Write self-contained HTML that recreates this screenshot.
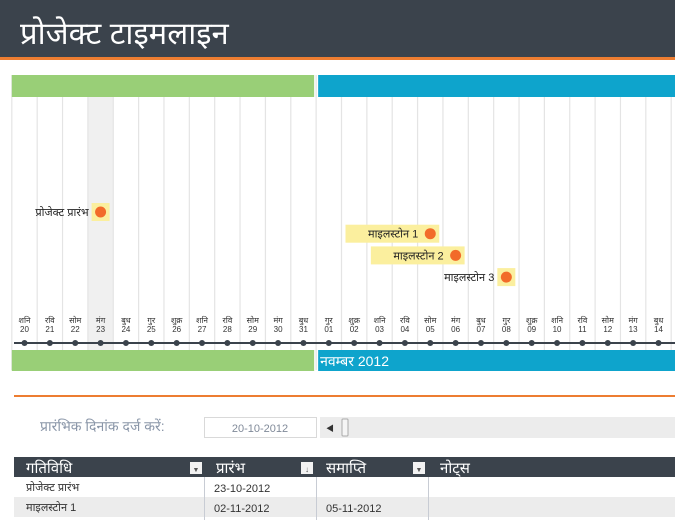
<!DOCTYPE html>
<html><head><meta charset="utf-8">
<style>
body{margin:0;width:675px;height:520px;overflow:hidden;background:#fff;font-family:"Liberation Sans","Noto Sans CJK SC",sans-serif;}
svg{display:block}
text{font-family:"Liberation Sans","Noto Sans CJK SC",sans-serif;}
</style></head><body>
<svg id="c" width="675" height="520">
<rect x="0" y="0" width="675" height="57" fill="#3b434c"/>
<rect x="0" y="57" width="675" height="3" fill="#ed7d31"/>
<text x="20" y="44" font-size="31" fill="#fff">प्रोजेक्ट टाइमलाइन</text>
<g id="grid"></g>
<g id="marks"></g>
<rect x="14" y="395" width="661" height="2" fill="#ed7d31"/>
<text x="40" y="431" font-size="14" fill="#8a96a8">प्रारंभिक दिनांक दर्ज करें:</text>
<rect x="204.5" y="417.5" width="112" height="20" fill="#fff" stroke="#d9d9d9"/>
<text x="260" y="432" font-size="11" fill="#808a99" text-anchor="middle">20-10-2012</text>
<rect x="320" y="417" width="355" height="21" fill="#ececec"/>
<text x="326" y="431" font-size="8" fill="#333">◀</text>
<rect x="342" y="419" width="6" height="17" fill="#f5f5f5" stroke="#aaa" rx="1"/>
<rect x="14" y="457" width="661" height="20" fill="#3b434c"/>
<text x="26" y="473" font-size="15" fill="#fff">गतिविधि</text>
<rect x="190" y="462" width="12" height="12" fill="#f2f2f2"/>
<text x="196" y="472" font-size="7" fill="#555" text-anchor="middle">▼</text>
<text x="216" y="473" font-size="15" fill="#fff">प्रारंभ</text>
<rect x="301" y="462" width="12" height="12" fill="#f2f2f2"/>
<text x="307" y="472" font-size="8" fill="#555" text-anchor="middle">↓</text>
<text x="326" y="473" font-size="15" fill="#fff">समाप्ति</text>
<rect x="413" y="462" width="12" height="12" fill="#f2f2f2"/>
<text x="419" y="472" font-size="7" fill="#555" text-anchor="middle">▼</text>
<text x="440" y="473" font-size="15" fill="#fff">नोट्स</text>
<rect x="14" y="497" width="661" height="20" fill="#ececec"/>
<line x1="204.5" y1="477" x2="204.5" y2="520" stroke="#c8ccd4"/>
<line x1="316.5" y1="477" x2="316.5" y2="520" stroke="#c8ccd4"/>
<line x1="428.5" y1="477" x2="428.5" y2="520" stroke="#c8ccd4"/>
<g font-size="11" fill="#333">
<text x="26" y="491">प्रोजेक्ट प्रारंभ</text>
<text x="214" y="492">23-10-2012</text>
<text x="26" y="511">माइलस्टोन 1</text>
<text x="214" y="512">02-11-2012</text>
<text x="326" y="512">05-11-2012</text>
</g>
</svg>
<script>
const dayNames=["शनि","रवि","सोम","मंग","बुध","गुर","शुक्र","शनि","रवि","सोम","मंग","बुध","गुर","शुक्र","शनि","रवि","सोम","मंग","बुध","गुर","शुक्र","शनि","रवि","सोम","मंग","बुध"];
const dayNums=["20","21","22","23","24","25","26","27","28","29","30","31","01","02","03","04","05","06","07","08","09","10","11","12","13","14"];
const msNames=["प्रोजेक्ट प्रारंभ","माइलस्टोन 1","माइलस्टोन 2","माइलस्टोन 3"];
const msStart=[3,13,14,17];
const msDot=[3,16,17,19];
const msRow=[0,1,2,3];
const monthStarts=[0,12];
const monthLabels=["",'नवम्बर 2012'];
const monthColors=["#99cf77","#0ea4cc"];
const highlightDay=3;

const NS="http://www.w3.org/2000/svg";
const x0=24.5, dx=25.36;
const xDay=i=>x0+i*dx;
const yRow=r=>212+r*21.7;
function mk(tag,attrs,parent){const e=document.createElementNS(NS,tag);for(const k in attrs)e.setAttribute(k,attrs[k]);parent.appendChild(e);return e;}
const grid=document.getElementById('grid'), marks=document.getElementById('marks');
// highlight column
const hl=mk('rect',{x:xDay(highlightDay)-dx/2,y:97,width:dx,height:253,fill:'#f0f0f0'},grid);


for(let i=0;i<=dayNums.length;i++){
  const gl=mk('line',{x1:xDay(i)-dx/2,x2:xDay(i)-dx/2,y1:75,y2:370,stroke:'#e4e4e4','stroke-width':1.2},grid);
  
  
}
// month bars
for(let m=0;m<monthStarts.length;m++){
  const s=xDay(monthStarts[m])-dx/2+(m?2:0);
  const e=m+1<monthStarts.length?xDay(monthStarts[m+1])-dx/2-2:675;
  const t=mk('rect',{x:s,y:75,width:e-s,height:22,fill:monthColors[m]},grid);
  
  
  const b=mk('rect',{x:s,y:350,width:e-s,height:21,fill:monthColors[m]},grid);
  
  
  if(monthLabels[m]){const tx=mk('text',{x:s+2,y:366,'font-size':14,fill:'#fff'},grid);tx.textContent=monthLabels[m];
  
  }
}
// axis line
const ax=mk('line',{x1:14,x2:675,y1:343,y2:343,stroke:'#3b434c','stroke-width':2},grid);


for(let i=0;i<dayNums.length;i++){
  const d=mk('circle',{cx:xDay(i),cy:343,r:3,fill:'#3b434c'},grid);
  
  
  const t1=mk('text',{x:xDay(i),y:323,'font-size':8,fill:'#333','text-anchor':'middle'},grid);t1.textContent=dayNames[i];
  
  
  const t2=mk('text',{x:xDay(i),y:332,'font-size':8,fill:'#333','text-anchor':'middle'},grid);t2.textContent=dayNums[i];
  
  
}
// milestones
for(let k=0;k<msNames.length;k++){
  const y=yRow(msRow[k]), xd=xDay(msDot[k]);
  const left=k===0||k===3? xd-9 : xDay(msStart[k])-dx/2+4;
  const bx=mk('rect',{x:left,y:y-9,width:xd+9-left,height:18,fill:'#fbef9e'},marks);
  
  
  const t=mk('text',{x:xd-12,y:y+4,'font-size':11,fill:'#222','text-anchor':'end'},marks);t.textContent=msNames[k];
  
  
  const c=mk('circle',{cx:xd,cy:y,r:5.5,fill:'#f26b2a'},marks);
  
  
}
</script>
</body></html>
